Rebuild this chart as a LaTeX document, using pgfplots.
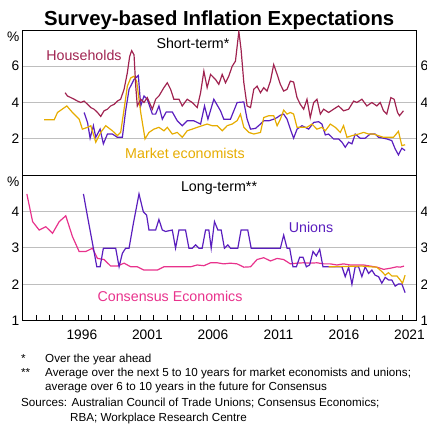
\documentclass[border=0pt]{standalone}
\usepackage{pgfplots}
\pgfplotsset{compat=1.18}
\usepackage{fontspec}
\setmainfont{Liberation Sans}
\definecolor{hh}{RGB}{160,35,80}
\definecolor{me}{RGB}{230,172,0}
\definecolor{un}{RGB}{90,30,190}
\definecolor{ce}{RGB}{232,50,140}
\definecolor{gridc}{RGB}{190,190,190}
\newcommand{\tickfont}{\fontsize{13.8}{16}\selectfont}
\newcommand{\labfont}{\fontsize{14.3}{17}\selectfont}
\begin{document}
\begin{tikzpicture}[x=1bp,y=1bp]
\useasboundingbox (0,0) rectangle (427,-429);
\pgfplotsset{
  panel/.style={scale only axis, width=394bp, xmin=1991.93, xmax=2022, clip mode=individual,
    axis line style={line width=0.9pt}, ymajorgrids, grid style={gridc, line width=0.9pt},
    tick style={black, line width=0.9pt}, major tick length=0pt,
    ticklabel style={font=\tickfont},
    /pgf/number format/assume math mode=true,
    yticklabel style={inner sep=0pt, xshift=-2.5bp},
    every axis plot/.append style={line width=1.2pt, mark=none}},
  rlab/.style={scale only axis, width=394bp, xmin=1991.93, xmax=2022, axis x line=none,
    axis y line*=right, axis line style={line width=0.9pt}, major tick length=0pt,
    ticklabel style={font=\tickfont}, /pgf/number format/assume math mode=true,
    yticklabel style={inner sep=0pt, xshift=4.5bp}}
}
% title
\node[font=\fontsize{20.4}{24}\selectfont\bfseries, anchor=base, inner sep=0] at (219.2,-25) {Survey-based Inflation Expectations};

% ---------------- top panel
\begin{axis}[panel, at={(22bp,-30bp)}, anchor=north west, height=145bp,
  ymin=0, ymax=8, ytick={2,4,6}, yticklabels={2,4,6}, xtick=\empty]
\addplot[un] coordinates {
(1996.67,3.45)(1996.93,2.9)(1997.13,2.03)(1997.38,2.72)(1997.56,2.08)(1997.89,2.53)(1998.14,1.72)(1998.45,2.26)(1998.83,2.26)(1999.21,2.08)(1999.59,2.08)(1999.84,3.54)(2000.10,4.73)(2000.48,5.27)(2000.81,5.49)(2000.99,3.81)(2001.24,4.36)(2001.49,4.18)(2001.88,3.36)(2002.13,3.36)(2002.38,3.81)(2002.64,3.08)(2002.94,3.48)(2003.40,3.48)(2003.78,2.99)(2004.16,2.72)(2004.54,2.99)(2005.05,2.99)(2005.56,2.81)(2005.86,3.81)(2006.12,3.08)(2006.57,4.18)(2007.08,3.54)(2007.33,3.08)(2007.84,3.08)(2008.35,4.0)(2008.86,4.03)(2009.11,3.08)(2009.37,2.53)(2009.75,2.57)(2010.13,2.81)(2010.38,2.99)(2010.76,2.99)(2011.14,3.08)(2011.40,3.17)(2011.65,3.3)(2011.90,3.36)(2012.16,3.08)(2012.41,2.53)(2012.66,2.03)(2012.92,2.53)(2013.30,2.72)(2013.55,2.63)(2013.81,2.53)(2014.19,2.9)(2014.57,2.94)(2014.82,2.81)(2015.08,2.21)(2015.33,2.26)(2015.71,1.99)(2016.09,1.99)(2016.35,1.81)(2016.60,1.53)(2016.86,1.81)(2017.11,1.72)(2017.36,2.26)(2017.74,2.03)(2018.12,2.03)(2018.50,2.26)(2018.88,2.26)(2019.14,2.08)(2019.52,2.03)(2019.77,1.99)(2020.15,1.9)(2020.41,1.44)(2020.66,1.11)(2020.92,1.48)(2021.17,1.35)};
\addplot[me] coordinates {
(1993.62,3.05)(1994.39,3.05)(1994.64,3.45)(1995.35,3.81)(1995.78,3.45)(1996.29,3.08)(1996.54,2.53)(1996.93,2.63)(1997.18,2.72)(1997.56,1.81)(1997.94,2.35)(1998.32,2.72)(1998.83,2.44)(1999.21,2.17)(1999.46,2.35)(1999.72,3.63)(1999.97,4.9)(2000.23,5.36)(2000.48,5.45)(2000.68,5.18)(2000.99,3.45)(2001.32,1.99)(2001.62,2.35)(2002.0,2.53)(2002.38,2.63)(2002.76,2.44)(2003.02,2.63)(2003.40,2.26)(2003.78,2.35)(2004.16,2.08)(2004.54,2.44)(2004.92,2.53)(2005.30,2.63)(2005.68,2.72)(2006.06,2.81)(2006.45,2.72)(2006.83,2.72)(2007.21,2.44)(2007.59,2.72)(2007.97,2.81)(2008.35,3.0)(2008.60,3.36)(2008.86,2.63)(2009.24,2.35)(2009.62,2.26)(2010.13,2.35)(2010.38,3.17)(2010.76,3.27)(2011.14,3.27)(2011.40,2.72)(2011.65,3.08)(2011.90,3.58)(2012.16,3.36)(2012.41,3.45)(2012.66,3.36)(2012.92,2.63)(2013.30,2.63)(2013.68,2.63)(2014.06,2.81)(2014.44,2.53)(2014.82,2.63)(2015.08,2.44)(2015.46,2.81)(2015.84,2.63)(2016.22,2.35)(2016.47,2.72)(2016.73,2.08)(2017.11,2.17)(2017.62,2.26)(2018.0,2.35)(2018.38,2.26)(2018.76,2.26)(2019.14,2.17)(2019.52,2.08)(2019.90,2.08)(2020.28,2.08)(2020.66,2.41)(2020.92,1.62)(2021.17,1.67)};
\addplot[hh] coordinates {
(1995.22,4.54)(1995.40,4.36)(1995.66,4.27)(1995.91,4.18)(1996.16,4.08)(1996.42,4.0)(1996.67,4.08)(1996.93,3.9)(1997.18,3.72)(1997.43,3.63)(1997.69,3.45)(1997.94,3.23)(1998.19,3.54)(1998.45,3.63)(1998.70,3.81)(1998.96,3.9)(1999.21,4.08)(1999.46,4.18)(1999.72,4.73)(1999.97,5.64)(2000.15,6.55)(2000.30,6.86)(2000.48,6.63)(2000.61,4.9)(2000.73,3.81)(2000.99,4.18)(2001.24,4.0)(2001.49,4.27)(2001.88,3.63)(2002.13,4.18)(2002.38,4.36)(2002.76,4.82)(2003.02,5.09)(2003.27,4.73)(2003.52,4.18)(2003.91,4.18)(2004.16,3.81)(2004.54,4.18)(2004.92,4.0)(2005.30,3.72)(2005.56,4.54)(2005.81,5.73)(2006.06,4.82)(2006.32,5.55)(2006.70,5.27)(2006.95,5.0)(2007.21,5.55)(2007.46,5.09)(2007.71,5.45)(2007.97,6.0)(2008.22,6.28)(2008.48,7.92)(2008.65,6.92)(2008.86,5.09)(2009.11,3.81)(2009.37,3.72)(2009.62,4.73)(2009.87,4.9)(2010.13,4.54)(2010.38,4.82)(2010.63,4.63)(2010.89,5.18)(2011.14,6.09)(2011.40,5.55)(2011.65,5.0)(2011.90,4.63)(2012.16,4.73)(2012.41,5.18)(2012.66,5.13)(2012.92,4.27)(2013.17,3.9)(2013.43,3.63)(2013.68,4.18)(2013.93,3.17)(2014.19,4.0)(2014.44,4.18)(2014.70,3.36)(2014.95,3.63)(2015.33,3.45)(2015.71,3.63)(2016.09,3.81)(2016.47,3.54)(2016.86,3.63)(2017.24,4.08)(2017.49,4.0)(2017.87,4.18)(2018.25,3.81)(2018.63,4.0)(2019.01,3.81)(2019.27,4.0)(2019.52,3.54)(2019.77,3.36)(2020.08,4.27)(2020.33,4.18)(2020.59,3.45)(2020.74,3.27)(2021.04,3.54)};
\node[font=\labfont, text=hh] at (axis cs:1996.66,6.62) {Households};
\node[font=\labfont] at (axis cs:2004.98,7.28) {Short-term*};
\node[font=\labfont, text=me] at (axis cs:2004.37,1.21) {Market economists};
\node[font=\tickfont, anchor=east, inner sep=0] at ([xshift=-2.5bp,yshift=-7bp]rel axis cs:0,1) {\%};
\end{axis}
\begin{axis}[rlab, at={(22bp,-30bp)}, anchor=north west, height=145bp,
  ymin=0, ymax=8, ytick={2,4,6}, yticklabels={2,4,6}]
\node[font=\tickfont, anchor=west, inner sep=0] at ([xshift=4.5bp,yshift=-7bp]rel axis cs:1,1) {\%};
\end{axis}

% ---------------- bottom panel
\begin{axis}[panel, at={(22bp,-175bp)}, anchor=north west, height=145.7bp,
  ymin=1, ymax=5, ytick={1,2,3,4}, yticklabels={1,2,3,4},
  xtick={1996.5,2001.5,2006.5,2011.5,2016.5,2021.5}, xticklabels={1996,2001,2006,2011,2016,2021},
  minor xtick={1993,...,2021}, minor tick length=6bp, xtick pos=bottom,
  xticklabel style={inner sep=0pt, yshift=-9bp}]
\addplot[ce] coordinates {
(1992.30,4.48)(1992.74,3.72)(1993.24,3.49)(1993.75,3.58)(1994.26,3.40)(1994.77,3.72)(1995.27,3.88)(1995.78,3.31)(1996.29,2.90)(1996.80,2.90)(1997.31,2.99)(1997.69,2.71)(1998.19,2.68)(1998.70,2.50)(1999.21,2.50)(1999.72,2.58)(2000.23,2.48)(2000.73,2.48)(2001.24,2.39)(2001.75,2.39)(2002.26,2.39)(2002.76,2.48)(2003.27,2.48)(2003.78,2.48)(2004.29,2.48)(2004.80,2.48)(2005.30,2.53)(2005.81,2.51)(2006.32,2.59)(2006.83,2.59)(2007.33,2.56)(2007.84,2.58)(2008.35,2.56)(2008.86,2.47)(2009.37,2.48)(2009.87,2.68)(2010.38,2.73)(2010.89,2.64)(2011.40,2.71)(2011.90,2.68)(2012.41,2.56)(2012.92,2.58)(2013.43,2.59)(2013.93,2.58)(2014.44,2.59)(2014.95,2.56)(2015.46,2.56)(2015.97,2.53)(2016.47,2.56)(2016.98,2.53)(2017.49,2.53)(2018.0,2.53)(2018.50,2.50)(2019.01,2.47)(2019.52,2.41)(2020.03,2.44)(2020.54,2.48)(2020.79,2.47)(2021.09,2.50)};
\addplot[un] coordinates {
(1996.62,4.48)(1996.93,3.86)(1997.38,2.99)(1997.64,2.48)(1997.89,2.48)(1998.14,2.99)(1999.08,2.99)(1999.34,2.48)(1999.59,2.85)(1999.84,2.99)(2000.10,2.99)(2000.43,3.67)(2000.86,4.48)(2001.19,3.99)(2001.44,3.90)(2001.62,3.49)(2002.13,3.49)(2002.38,3.78)(2002.64,3.49)(2002.89,3.45)(2003.40,3.49)(2003.65,2.99)(2003.91,3.49)(2004.41,3.49)(2004.67,2.99)(2004.92,2.99)(2005.18,3.08)(2005.43,2.99)(2005.68,2.99)(2005.94,3.49)(2006.19,3.49)(2006.37,2.99)(2006.62,3.72)(2006.88,3.49)(2007.13,3.49)(2007.38,2.99)(2007.64,3.08)(2007.84,2.99)(2008.40,2.99)(2008.65,3.49)(2009.16,3.49)(2009.42,2.99)(2011.65,2.99)(2011.90,3.35)(2012.16,2.99)(2012.36,2.99)(2012.61,2.48)(2012.87,2.48)(2013.12,2.74)(2013.38,2.74)(2013.63,2.48)(2013.88,2.53)(2014.14,2.90)(2014.39,2.78)(2014.65,2.96)(2014.90,2.48)(2016.35,2.48)(2016.60,2.21)(2016.86,2.47)(2017.11,2.00)(2017.36,2.48)(2017.62,2.48)(2017.87,2.21)(2018.12,2.48)(2018.38,2.30)(2018.63,2.39)(2018.88,2.25)(2019.14,2.21)(2019.39,2.03)(2019.65,2.19)(2019.90,2.12)(2020.15,2.12)(2020.41,1.95)(2020.66,2.01)(2020.92,2.01)(2021.17,1.77)};
\addplot[me] coordinates {
(2015.33,2.48)(2017.87,2.50)(2018.50,2.48)(2019.01,2.47)(2019.39,2.35)(2019.65,2.25)(2019.90,2.32)(2020.15,2.23)(2020.54,2.23)(2020.79,2.12)(2020.97,2.03)(2021.17,2.25)};
\node[font=\labfont] at (axis cs:2006.97,4.64) {Long-term**};
\node[font=\labfont, text=un] at (axis cs:2013.99,3.55) {Unions};
\node[font=\labfont, text=ce] at (axis cs:2003.23,1.68) {Consensus Economics};
\node[font=\tickfont, anchor=east, inner sep=0] at ([xshift=-2.5bp,yshift=-7bp]rel axis cs:0,1) {\%};
\end{axis}
\begin{axis}[rlab, at={(22bp,-175bp)}, anchor=north west, height=145.7bp,
  ymin=1, ymax=5, ytick={1,2,3,4}, yticklabels={1,2,3,4}]
\node[font=\tickfont, anchor=west, inner sep=0] at ([xshift=4.5bp,yshift=-7bp]rel axis cs:1,1) {\%};
\end{axis}

% footnotes
\begin{scope}[every node/.style={font=\fontsize{11.7}{14}\selectfont, anchor=base west, inner sep=0}]
\node at (21,-362) {*};
\node at (45,-362) {Over the year ahead};
\node at (21,-376) {**};
\node at (45,-376) {Average over the next 5 to 10 years for market economists and unions;};
\node at (45,-390) {average over 6 to 10 years in the future for Consensus};
\node at (21,-406) {Sources: Australian Council of Trade Unions; Consensus Economics;};
\node at (70,-421) {RBA; Workplace Research Centre};
\end{scope}
\end{tikzpicture}
\end{document}
